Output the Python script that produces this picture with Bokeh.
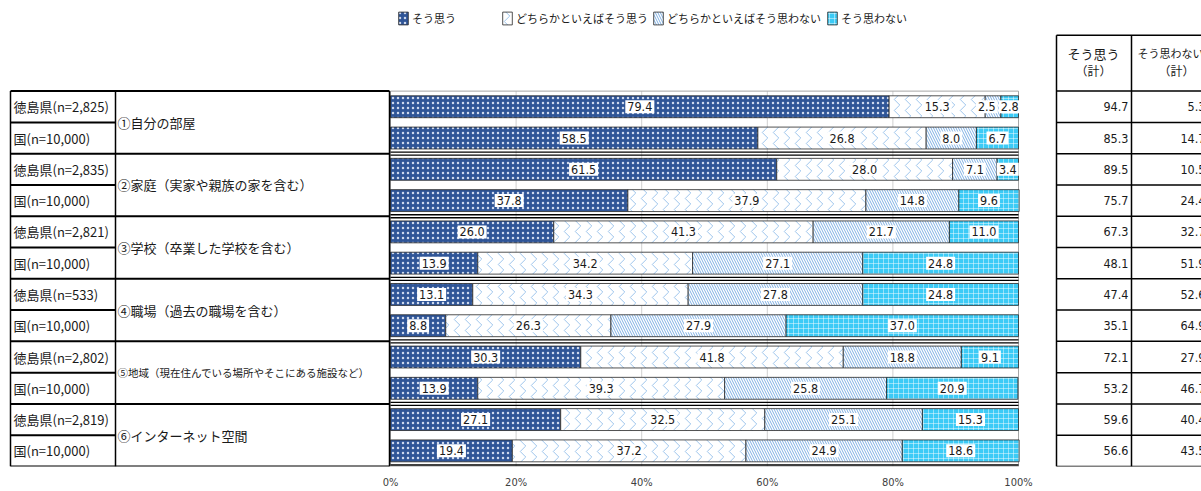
from bokeh.plotting import figure
from bokeh.models import Range1d, FixedTicker, Legend, LegendItem
from bokeh.core.properties import value
from bokeh.embed import file_html
from bokeh.resources import INLINE

# ---------------- data ----------------
categories = ["①自分の部屋", "②家庭（実家や親族の家を含む）", "③学校（卒業した学校を含む）",
              "④職場（過去の職場を含む）", "⑤地域（現在住んでいる場所やそこにある施設など）",
              "⑥インターネット空間"]
row_labels = ["徳島県(n=2,825)", "国(n=10,000)", "徳島県(n=2,835)", "国(n=10,000)",
              "徳島県(n=2,821)", "国(n=10,000)", "徳島県(n=533)", "国(n=10,000)",
              "徳島県(n=2,802)", "国(n=10,000)", "徳島県(n=2,819)", "国(n=10,000)"]
series_names = ["そう思う", "どちらかといえばそう思う", "どちらかといえばそう思わない", "そう思わない"]
s_agree = [79.4, 58.5, 61.5, 37.8, 26.0, 13.9, 13.1, 8.8, 30.3, 13.9, 27.1, 19.4]
s_some_agree = [15.3, 26.8, 28.0, 37.9, 41.3, 34.2, 34.3, 26.3, 41.8, 39.3, 32.5, 37.2]
s_some_disagree = [2.5, 8.0, 7.1, 14.8, 21.7, 27.1, 27.8, 27.9, 18.8, 25.8, 25.1, 24.9]
s_disagree = [2.8, 6.7, 3.4, 9.6, 11.0, 24.8, 24.8, 37.0, 9.1, 20.9, 15.3, 18.6]
total_agree = [94.7, 85.3, 89.5, 75.7, 67.3, 48.1, 47.4, 35.1, 72.1, 53.2, 59.6, 56.6]
total_disagree = [5.3, 14.7, 10.5, 24.4, 32.7, 51.9, 52.6, 64.9, 27.9, 46.7, 40.4, 43.5]
header_top = ["そう思う", "そう思わない"]
header_bottom = ["（計）", "（計）"]
tick_values = [0, 20, 40, 60, 80, 100]
tick_labels = ["0%", "20%", "40%", "60%", "80%", "100%"]

# ---------------- layout helpers ----------------
W, H = 1201, 491
FRAME_H = 468
AXIS_H = H - FRAME_H
X_ZERO = 390.0
X_SCALE = 6.28
Y_TOP = 91.0
N = len(row_labels)
ROW_H = (FRAME_H - Y_TOP) / N


def dx(page_x):
    return (page_x - X_ZERO) / X_SCALE


def dy(page_y):
    return (page_y - Y_TOP) / ROW_H


JP = value("Noto Sans CJK JP")
NUM_NAME = "DejaVu Sans Condensed, DejaVu Sans, sans-serif"
NUM = value(NUM_NAME)
NUM_FS = 12.5
TXT = "#1a1a1a"

p = figure(width=W, height=H, output_backend="svg", toolbar_location=None,
           x_range=Range1d(-X_ZERO / X_SCALE, (W - X_ZERO) / X_SCALE),
           y_range=Range1d(float(N), -Y_TOP / ROW_H),
           min_border=0, min_border_bottom=AXIS_H)
p.outline_line_color = None
p.background_fill_color = "white"
p.border_fill_color = "white"
p.xgrid.visible = False
p.ygrid.visible = False
p.yaxis.visible = False
p.xaxis.ticker = FixedTicker(ticks=tick_values)
p.xaxis.major_label_overrides = {v: l for v, l in zip(tick_values, tick_labels)}
p.xaxis.axis_line_color = None
p.xaxis.major_tick_line_color = None
p.xaxis.minor_tick_line_color = None
p.xaxis.major_tick_out = 0
p.xaxis.major_tick_in = 0
p.xaxis.major_label_standoff = 9
p.xaxis.major_label_text_font = NUM_NAME
p.xaxis.major_label_text_font_size = "11px"
p.xaxis.major_label_text_color = "#404040"

ys = [i + 0.5 for i in range(N)]

# grid lines and bar-area frame
inner = tick_values[1:-1]
p.segment(x0=inner, x1=inner, y0=[0] * len(inner), y1=[N] * len(inner),
          line_color="#d0d0d0", line_width=1)
p.quad(left=[0], right=[100], top=[0], bottom=[N], fill_color=None,
       line_color="#a6a6a6", line_width=1)

# stacked bars
series = [s_agree, s_some_agree, s_some_disagree, s_disagree]
styles = [
    dict(fill_color="#2F5597", hatch_pattern="dot", hatch_color="#dfe7f7",
         hatch_scale=5, hatch_weight=1, hatch_alpha=0.9),
    dict(fill_color="white", hatch_pattern="vertical_wave", hatch_color="#94bfea",
         hatch_scale=11, hatch_weight=1, hatch_alpha=0.9),
    dict(fill_color="white", hatch_pattern="left_diagonal_line", hatch_color="#7fb0e3",
         hatch_scale=5, hatch_weight=1),
    dict(fill_color="#3CCBF6", hatch_pattern="cross", hatch_color="white",
         hatch_scale=5, hatch_weight=1, hatch_alpha=0.45),
]


def label_width_px(t):
    return (sum(0.286 if ch == "." else 0.572 for ch in t)) * NUM_FS + 4


left = [0.0] * N
renderers = []
row_labels_pos = [[] for _ in range(N)]
for vals, st in zip(series, styles):
    right = [l + v for l, v in zip(left, vals)]
    r = p.hbar(y=ys, left=left, right=right, height=0.7,
               line_color="#262626", line_width=0.8, **st)
    renderers.append(r)
    for i in range(N):
        row_labels_pos[i].append([(left[i] + right[i]) / 2, f"{vals[i]:.1f}"])
    left = right

# avoid overlapping value labels inside one bar (shift earlier label left)
label_x, label_y, label_t = [], [], []
for i in range(N):
    items = row_labels_pos[i]
    for k in range(len(items) - 2, -1, -1):
        cx, t = items[k]
        nx, nt = items[k + 1]
        gap = (label_width_px(t) + label_width_px(nt)) / 2 + 1
        if (nx - cx) * X_SCALE < gap:
            items[k][0] = nx - gap / X_SCALE
    for cx, t in items:
        label_x.append(cx)
        label_y.append(ys[i])
        label_t.append(t)

p.text(x=label_x, y=label_y, text=label_t, text_align="center", text_baseline="middle",
       text_font=NUM, text_font_size=f"{NUM_FS}px", text_color=TXT,
       background_fill_color="white", padding=2)

# group separators across bar area (double lines)
groups = list(range(2, N + 1, 2))
off = 1.5 / ROW_H
p.segment(x0=[0] * len(groups), x1=[100] * len(groups),
          y0=[g - off for g in groups], y1=[g - off for g in groups],
          line_color="black", line_width=1.3)
p.segment(x0=[0] * len(groups[:-1]), x1=[100] * len(groups[:-1]),
          y0=[g + off for g in groups[:-1]], y1=[g + off for g in groups[:-1]],
          line_color="black", line_width=1.3)

# ---------------- left table ----------------
xl, xm, xr = dx(10), dx(115), dx(389)
p.segment(x0=[xl, xm, xr], x1=[xl, xm, xr], y0=[0, 0, 0], y1=[N, N, N],
          line_color="black", line_width=1.5)
p.segment(x0=[xl] * (len(groups) + 1), x1=[xr] * (len(groups) + 1),
          y0=[0] + groups, y1=[0] + groups, line_color="black", line_width=2)
mids = list(range(1, N, 2))
p.segment(x0=[xl] * len(mids), x1=[xm] * len(mids), y0=mids, y1=mids,
          line_color="black", line_width=2)
p.text(x=[dx(13)] * N, y=ys, text=row_labels, text_align="left", text_baseline="middle",
       text_font=JP, text_font_size="13px", text_color=TXT)
cat_sizes = ["13px" if len(c) < 20 else "10.5px" for c in categories]
p.text(x=[dx(117)] * len(categories), y=[2 * k + 1 for k in range(len(categories))],
       text=categories, text_align="left", text_baseline="middle",
       text_font=JP, text_font_size=cat_sizes, text_color=TXT)

# ---------------- right table ----------------
rt_l, rt_m = dx(1056), dx(1131)
rt_r = (W - X_ZERO) / X_SCALE
rt_top = dy(35)
p.segment(x0=[rt_l, rt_m], x1=[rt_l, rt_m], y0=[rt_top, rt_top], y1=[N, N],
          line_color="black", line_width=1.5)
hl = [rt_top] + list(range(0, N + 1))
p.segment(x0=[rt_l] * len(hl), x1=[rt_r] * len(hl), y0=hl, y1=hl,
          line_color="black", line_width=1.5)
p.text(x=[dx(1093), dx(1170)], y=[dy(53)] * 2, text=header_top, text_align="center",
       text_baseline="middle", text_font=JP, text_font_size=["13px", "11px"],
       text_color=TXT)
p.text(x=[dx(1093), dx(1176)], y=[dy(70)] * 2, text=header_bottom, text_align="center",
       text_baseline="middle", text_font=JP, text_font_size="12px", text_color=TXT)
p.text(x=[dx(1128)] * N, y=ys, text=[f"{v:.1f}" for v in total_agree], text_align="right",
       text_baseline="middle", text_font=NUM, text_font_size=f"{NUM_FS}px", text_color=TXT)
p.text(x=[dx(1195)] * N, y=ys, text=[f"{v:.1f}" for v in total_disagree], text_align="right",
       text_baseline="middle", text_font=NUM, text_font_size=f"{NUM_FS}px", text_color=TXT,
       x_offset=10)

# ---------------- legends ----------------
leg_x = [397, 501, 652, 826]
for name, r, lx in zip(series_names, renderers, leg_x):
    lg = Legend(items=[LegendItem(label=name, renderers=[r])],
                location=(lx, FRAME_H - 28), orientation="horizontal",
                glyph_width=12, glyph_height=16, label_standoff=3, padding=0, margin=0,
                spacing=0, border_line_color=None, background_fill_alpha=0,
                label_text_font="Noto Sans CJK JP", label_text_font_size="11px",
                label_text_color=TXT, label_height=16)
    p.add_layout(lg)

open("out.html", "w").write(file_html(p, INLINE))
